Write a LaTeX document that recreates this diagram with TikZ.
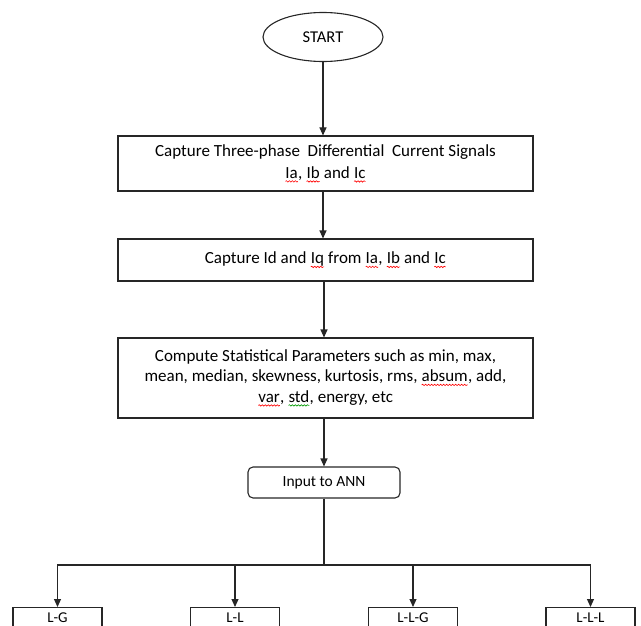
\documentclass[tikz,border=0pt]{standalone}
\usepackage{fontspec}
\setmainfont{Carlito}
\usetikzlibrary{arrows.meta,shapes.geometric,decorations.pathmorphing}
\newcommand\wavy[2]{\tikz[x=1cm,y=1cm,baseline=(w.base)]{\node[draw=none,inner sep=0pt,outer sep=0pt,minimum size=0pt,rounded corners=0pt] (w) {#2};
  \draw[#1,line width=0.6pt,decorate,decoration={snake,amplitude=0.7pt,segment length=3pt}] ([yshift=-3pt]w.base west) -- ([yshift=-3pt]w.base east);}}
\newcommand\redwave[1]{\wavy{red}{#1}}
\newcommand\greenwave[1]{\wavy{green!60!black}{#1}}
\tikzset{
  ln/.style={line width=1.1pt, draw=black!85},
  arr/.style={ln, -{Triangle[length=8pt,width=7pt]}},
  proc/.style={ln, rectangle, minimum width=415pt, align=center, inner sep=0pt,
    font=\fontsize{17}{20.5}\selectfont},
  term/.style={ln, ellipse, minimum width=120pt, minimum height=49pt, inner sep=0pt,
    font=\fontsize{16.5}{19}\selectfont},
  rbox/.style={ln, rectangle, rounded corners=5pt, minimum width=152pt, minimum height=31pt,
    inner sep=0pt, font=\fontsize{15.5}{18}\selectfont},
  outbox/.style={ln, rectangle, anchor=north, minimum width=89pt, inner xsep=0pt, inner ysep=3pt,
    text height=12pt, text depth=20pt, font=\fontsize{15}{17}\selectfont}
}
\begin{document}
\begin{tikzpicture}[x=1pt,y=-1pt]
\useasboundingbox (0,0) rectangle (641,626);
\clip (0,0) rectangle (641,626);
\node[term] (start) at (323,37) {START};
\node[proc, minimum height=55pt] (b1) at (325.5,163.5)
  {Capture Three-phase\ \ Differential\ \ Current Signals\\[1.5pt] \redwave{Ia}, \redwave{Ib} and \redwave{Ic}};
\node[proc, minimum height=42pt] (b2) at (325.5,260)
  {Capture Id and \redwave{Iq} from \redwave{Ia}, \redwave{Ib} and \redwave{Ic}};
\node[proc, minimum height=80pt] (b3) at (325.5,378)
  {Compute Statistical Parameters such as min, max,\\ mean, median, skewness, kurtosis, rms, \redwave{absum}, add,\\ \redwave{var}, \greenwave{std}, energy, etc};
\node[rbox] (ann) at (324,482.5) {Input to ANN};
\coordinate (hub) at (324,565);
\node[outbox] (lg) at (57.5,607) {L-G};
\node[outbox] (ll) at (235,607) {L-L};
\node[outbox] (llg) at (413,607) {L-L-G};
\node[outbox] (lll) at (590.5,607) {L-L-L};
\draw[arr] (start.south) -- (start.south |- b1.north);
\draw[arr] (b1.south -| start.south) -- (start.south |- b2.north);
\draw[arr] (b2.south -| ann.north) -- (ann.north |- b3.north);
\draw[arr] (b3.south -| ann.north) -- (ann.north);
\draw[ln] (ann.south) -- (hub);
\draw[arr] (hub) -| (lg.north);
\draw[arr] (hub) -| (ll.north);
\draw[arr] (hub) -| (llg.north);
\draw[arr] (hub) -| (lll.north);
\end{tikzpicture}
\end{document}
